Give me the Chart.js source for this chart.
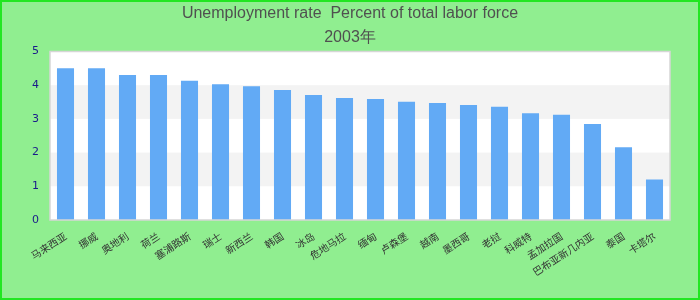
<!DOCTYPE html>
<html>
<head>
<meta charset="utf-8">
<script src="https://cdn.jsdelivr.net/npm/chart.js@4/dist/chart.umd.min.js"></script>
<style>
  html, body { margin: 0; padding: 0; background: #90ee90; }
  #box { width: 700px; height: 300px; position: relative; }
</style>
</head>
<body>
<div id="box"><canvas id="chartCanvas" width="700" height="300"></canvas></div>
<script>
// data
const countries = ['马来西亚', '挪威', '奥地利', '荷兰', '塞浦路斯', '瑞士', '新西兰', '韩国', '冰岛', '危地马拉',
    '缅甸', '卢森堡', '越南', '墨西哥', '老挝', '科威特', '孟加拉国', '巴布亚新几内亚', '泰国', '卡塔尔'];
const unemployment = [4.5, 4.5, 4.3, 4.3, 4.13, 4.03, 3.97, 3.86, 3.71, 3.62,
    3.59, 3.51, 3.47, 3.41, 3.36, 3.17, 3.12, 2.85, 2.16, 1.2];
const yTicks = [0, 1, 2, 3, 4, 5];
const titleLines = ['Unemployment rate  Percent of total labor force', '2003年'];

// white plot with grey bands, grey frame, green outer border
const plotBackground = {
    id: 'plotBackground',
    beforeDatasetsDraw(chart) {
        const ctx = chart.ctx;
        const a = chart.chartArea;
        const y = chart.scales.y;
        ctx.save();
        ctx.fillStyle = '#ffffff';
        ctx.fillRect(a.left, a.top, a.right - a.left, a.bottom - a.top);
        ctx.fillStyle = '#f3f3f3';
        for (let i = 1; i < yTicks.length - 1; i += 2) {
            const top = y.getPixelForValue(yTicks[i + 1]);
            const bottom = y.getPixelForValue(yTicks[i]);
            ctx.fillRect(a.left, top, a.right - a.left, bottom - top);
        }
        ctx.restore();
    },
    afterDatasetsDraw(chart) {
        const ctx = chart.ctx;
        const a = chart.chartArea;
        ctx.save();
        ctx.strokeStyle = '#d6d6d6';
        ctx.lineWidth = 1.5;
        ctx.strokeRect(a.left, a.top, a.right - a.left, a.bottom - a.top);
        ctx.strokeStyle = '#22e622';
        ctx.lineWidth = 2;
        ctx.strokeRect(1, 1, chart.width - 2, chart.height - 2);
        ctx.restore();
    }
};

const canvas = document.getElementById('chartCanvas');
new Chart(canvas, {
    type: 'bar',
    data: {
        labels: countries,
        datasets: [{
            label: 'Unemployment rate',
            data: unemployment,
            backgroundColor: '#62aaf5',
            borderWidth: 0,
            categoryPercentage: 1,
            barPercentage: 0.55
        }]
    },
    options: {
        responsive: false,
        animation: false,
        // equal side padding keeps the title centred on the whole canvas
        layout: { padding: { left: 30, right: 30, top: 0, bottom: 0 } },
        plugins: {
            legend: { display: false },
            tooltip: { enabled: false },
            title: {
                display: true,
                text: titleLines,
                color: '#505050',
                font: { family: 'Liberation Sans', size: 16, weight: 'normal', lineHeight: 1.5 },
                padding: { top: 2, bottom: 1.5 }
            }
        },
        scales: {
            x: {
                grid: { display: false, drawTicks: false },
                border: { display: false },
                ticks: {
                    color: '#333333',
                    font: { family: 'Noto Sans CJK SC', size: 10 },
                    minRotation: 33,
                    maxRotation: 33,
                    autoSkip: false,
                    padding: 10
                },
                afterFit(scale) { scale.height = 80; }
            },
            y: {
                min: 0,
                max: 5,
                grid: { display: false, drawTicks: false },
                border: { display: false },
                ticks: {
                    stepSize: 1,
                    color: '#1a1a8a',
                    font: { family: 'DejaVu Sans', size: 11 },
                    padding: 11
                },
                afterFit(scale) { scale.width = 20; }
            }
        }
    },
    plugins: [plotBackground]
});
</script>
</body>
</html>
